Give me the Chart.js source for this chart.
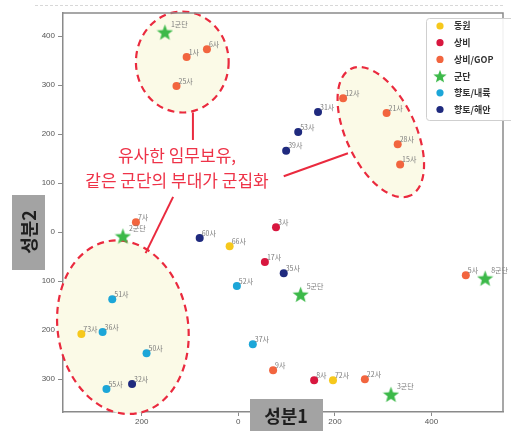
<!DOCTYPE html>
<html><head><meta charset="utf-8">
<script src="https://cdn.jsdelivr.net/npm/chart.js@4/dist/chart.umd.min.js"></script>
<style>html,body{margin:0;padding:0;background:#fff;overflow:hidden}#wrap{position:relative;width:511px;height:431px}</style>
</head><body><div id="wrap"><canvas id="c" width="511" height="431"></canvas></div>
<script>
// ---- data ----
const seriesNames = ['동원','상비','상비/GOP','군단','향토/내륙','향토/해안'];
const dongwonLabels = ['66사','73사','72사'];
const dongwonX = [-18,-325,196];
const dongwonY = [-29,-208,-302];
const sangbiLabels = ['3사','17사','8사'];
const sangbiX = [78,55,157];
const sangbiY = [10,-61,-302];
const gopLabels = ['1사','6사','25사','12사','21사','28사','15사','7사','5사','9사','22사'];
const gopX = [-107,-65,-128,217,307,330,335,-212,471,72,262];
const gopY = [357,373,298,273,243,179,138,20,-88,-282,-300];
const corpsLabels = ['1군단','2군단','5군단','8군단','3군단'];
const corpsX = [-152,-239,129,511,316];
const corpsY = [408,-8,-127,-94,-331];
const inlandLabels = ['52사','51사','36사','50사','55사','37사'];
const inlandX = [-3,-261,-281,-190,-273,30];
const inlandY = [-110,-137,-204,-247,-320,-229];
const coastLabels = ['31사','53사','39사','60사','35사','32사'];
const coastX = [165,124,99,-80,94,-220];
const coastY = [245,204,166,-12,-84,-310];
const xTicks = [-200,0,200,400];
const xTickLabels = ['200','0','200','400'];
const yTicks = [-300,-200,-100,0,100,200,300,400];
const yTickLabels = ['300','200','100','0','100','200','300','400'];
const annoText = ['유사한 임무보유,','같은 군단의 부대가 군집화'];
const axisTitles = ['성분1','성분2'];

// ---- styles ----
const colors = ['#f6c81c','#d8173f','#f2653f','#3cb949','#1ca6d8','#1f2a7e'];
const KFONT = '"Noto Sans CJK KR","Noto Sans",sans-serif';

function makeStar(size,color){
  const c=document.createElement('canvas');c.width=c.height=size;
  const g=c.getContext('2d');const R=size/2,r=R*0.42;
  g.beginPath();
  for(let i=0;i<10;i++){const a=-Math.PI/2+i*Math.PI/5;const rad=i%2?r:R;
    g.lineTo(R+rad*Math.cos(a),R+size*0.05+rad*Math.sin(a));}
  g.closePath();g.fillStyle=color;g.fill();return c;
}
const starBig = makeStar(17,colors[3]);
const starLegend = makeStar(14,colors[3]);

function pts(xs,ys){return xs.map((x,i)=>({x:x,y:ys[i]}));}
const groups = [
  {l:dongwonLabels,x:dongwonX,y:dongwonY},
  {l:sangbiLabels,x:sangbiX,y:sangbiY},
  {l:gopLabels,x:gopX,y:gopY},
  {l:corpsLabels,x:corpsX,y:corpsY},
  {l:inlandLabels,x:inlandX,y:inlandY},
  {l:coastLabels,x:coastX,y:coastY}
];
const datasets = groups.map((g,i)=>({
  label: seriesNames[i],
  data: pts(g.x,g.y),
  pointLabels: g.l,
  backgroundColor: colors[i],
  borderColor: colors[i],
  pointStyle: i===3 ? starBig : 'circle',
  pointRadius: i===3 ? 8 : 4,
  borderWidth: 0,
  showLine:false
}));

// annotations in data units
const ellipses = [
  {cx:-116, cy:347, rx:96, ry:103, rot:0},
  {cx:295, cy:204, rx:145, ry:71, rot:65},
  {cx:-239, cy:-194, rx:135, ry:178, rot:-9}
];
const connectors = [
  [[-94,244],[-94,188]],
  [[94,114],[227,161]],
  [[-192,-43],[-135,72]]
];
const annoAnchor = {x:-127, y1:157, y2:106};

const decor = {
  id:'decor',
  beforeDatasetsDraw(chart){
    const ctx=chart.ctx, xs=chart.scales.x, ys=chart.scales.y;
    const kx=Math.abs(xs.getPixelForValue(100)-xs.getPixelForValue(0))/100;
    const ky=Math.abs(ys.getPixelForValue(100)-ys.getPixelForValue(0))/100;
    ctx.save();
    ellipses.forEach(e=>{
      ctx.beginPath();
      ctx.ellipse(xs.getPixelForValue(e.cx),ys.getPixelForValue(e.cy),e.rx*kx,e.ry*ky,e.rot*Math.PI/180,0,Math.PI*2);
      ctx.fillStyle='#fbfae7';ctx.fill();
      ctx.setLineDash([7,5]);ctx.lineWidth=2.2;ctx.strokeStyle='#ea2a3e';ctx.stroke();
    });
    ctx.setLineDash([]);ctx.lineWidth=2;ctx.strokeStyle='#ea2a3e';
    connectors.forEach(c=>{
      ctx.beginPath();
      ctx.moveTo(xs.getPixelForValue(c[0][0]),ys.getPixelForValue(c[0][1]));
      ctx.lineTo(xs.getPixelForValue(c[1][0]),ys.getPixelForValue(c[1][1]));
      ctx.stroke();
    });
    ctx.fillStyle='#ee3348';ctx.font='17px '+KFONT;ctx.textAlign='center';ctx.textBaseline='middle';
    const ax=xs.getPixelForValue(annoAnchor.x);
    ctx.fillText(annoText[0],ax,ys.getPixelForValue(annoAnchor.y1));
    ctx.fillText(annoText[1],ax,ys.getPixelForValue(annoAnchor.y2));
    ctx.restore();
  },
  afterDatasetsDraw(chart){
    const ctx=chart.ctx;ctx.save();
    ctx.font='7px '+KFONT;ctx.fillStyle='#7a7a7a';ctx.textAlign='left';ctx.textBaseline='middle';
    chart.data.datasets.forEach((ds,i)=>{
      const meta=chart.getDatasetMeta(i);
      meta.data.forEach((el,j)=>{
        const star=i===3;
        ctx.fillText(ds.pointLabels[j],el.x+(star?6:2),el.y-(star?8:5));
      });
    });
    ctx.restore();
  },
  afterDraw(chart){
    const ctx=chart.ctx, a=chart.chartArea;ctx.save();
    // top & right spines
    ctx.strokeStyle='#8a8a8a';ctx.lineWidth=1.5;
    ctx.beginPath();ctx.moveTo(a.left,a.top);ctx.lineTo(a.right,a.top);ctx.lineTo(a.right,a.bottom);ctx.stroke();
    // faint dashed line above
    ctx.strokeStyle='#d8d8d8';ctx.lineWidth=1;ctx.setLineDash([3,2]);
    ctx.beginPath();ctx.moveTo(35,5.5);ctx.lineTo(a.right,5.5);ctx.stroke();ctx.setLineDash([]);
    // legend
    const lx=426, ly=18, lw=95, lh=102;
    ctx.fillStyle='rgba(255,255,255,0.9)';ctx.strokeStyle='#cfcfcf';ctx.lineWidth=1;
    ctx.beginPath();ctx.roundRect(lx+0.5,ly+0.5,lw,lh,3);ctx.fill();ctx.stroke();
    ctx.font='bold 9px '+KFONT;ctx.textAlign='left';ctx.textBaseline='middle';
    seriesNames.forEach((n,i)=>{
      const yy=ly+8+i*16.7, mx=lx+14;
      if(i===3){ctx.drawImage(starLegend,mx-7,yy-7);}
      else{ctx.beginPath();ctx.arc(mx,yy,3.6,0,Math.PI*2);ctx.fillStyle=colors[i];ctx.fill();}
      ctx.fillStyle='#333';ctx.fillText(n,lx+28,yy);
    });
    // axis title boxes
    ctx.fillStyle='#a3a3a3';
    ctx.fillRect(250,399,73,32);
    ctx.fillRect(12,195,33,75);
    ctx.fillStyle='#1e1e1e';ctx.font='bold 18px '+KFONT;ctx.textAlign='center';ctx.textBaseline='middle';
    ctx.fillText(axisTitles[0],286,416);
    ctx.translate(28,232);ctx.rotate(-Math.PI/2);ctx.fillText(axisTitles[1],0,1);
    ctx.restore();
  }
};

new Chart(document.getElementById('c'),{
  type:'scatter',
  data:{datasets:datasets},
  options:{
    responsive:false,animation:false,devicePixelRatio:1,
    layout:{padding:{top:13,right:6,left:0,bottom:0}},
    plugins:{legend:{display:false},tooltip:{enabled:false}},
    scales:{
      x:{type:'linear',min:-363,max:548,
        afterBuildTicks(s){s.ticks=xTicks.map(v=>({value:v}));},
        afterFit(s){s.height=19;},
        ticks:{padding:1,color:'#555',font:{size:8,family:'"Liberation Sans",sans-serif'},
          callback:(v)=>xTickLabels[xTicks.indexOf(v)]},
        grid:{drawOnChartArea:false,drawTicks:true,tickLength:4,color:'#8a8a8a'},
        border:{display:true,color:'#8a8a8a',width:1.5}},
      y:{type:'linear',min:-367,max:447,
        afterBuildTicks(s){s.ticks=yTicks.map(v=>({value:v}));},
        afterFit(s){s.width=63;},
        ticks:{padding:3,color:'#555',font:{size:8,family:'"Liberation Sans",sans-serif'},
          callback:(v)=>yTickLabels[yTicks.indexOf(v)]},
        grid:{drawOnChartArea:false,drawTicks:true,tickLength:5,color:'#8a8a8a'},
        border:{display:true,color:'#8a8a8a',width:1.5}}
    }
  },
  plugins:[decor]
});
</script></body></html>
